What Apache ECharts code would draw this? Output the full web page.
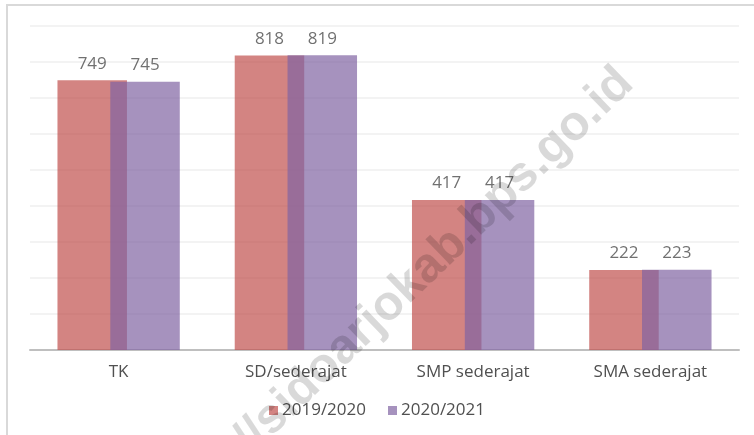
<!DOCTYPE html>
<html>
<head>
<meta charset="utf-8">
<script src="https://cdn.jsdelivr.net/npm/echarts@6/dist/echarts.min.js"></script>
<style>
  html, body { margin: 0; padding: 0; background: #fff; }
  #main { width: 754px; height: 435px; }
</style>
</head>
<body>
<div id="main"></div>
<script>
// jenjang pendidikan
var categories = ['TK', 'SD/sederajat', 'SMP sederajat', 'SMA sederajat'];
var years = ['2019/2020', '2020/2021'];
var values2019 = [749, 818, 417, 222];
var values2020 = [745, 819, 417, 223];

var myChart = echarts.init(document.getElementById('main'));

var labelStyle = {
    show: true,
    position: 'top',
    distance: 8,
    color: '#333333',
    fontSize: 17,
    fontFamily: 'Open Sans'
};

var option = {
    animation: false,
    textStyle: { fontFamily: 'Open Sans' },
    grid: { left: 30, right: 15, top: 26, bottom: 85 },
    legend: {
        data: years,
        bottom: 11,
        left: 'center',
        icon: 'rect',
        itemWidth: 9,
        itemHeight: 9,
        itemGap: 22,
        textStyle: { color: '#505050', fontSize: 17, fontFamily: 'Open Sans', padding: [0, 0, 0, -1] }
    },
    xAxis: {
        type: 'category',
        data: categories,
        axisTick: { show: false },
        axisLine: { lineStyle: { color: '#bfbfbf', width: 2 } },
        axisLabel: { color: '#505050', fontSize: 17, margin: 14 }
    },
    yAxis: {
        type: 'value',
        min: 0,
        max: 900,
        interval: 100,
        axisLabel: { show: false },
        axisLine: { show: false },
        axisTick: { show: false },
        splitLine: { lineStyle: { color: '#efefef', width: 1.5 } }
    },
    graphic: [
        // frame of the original picture
        { type: 'line', shape: { x1: 6, y1: 5, x2: 754, y2: 5 }, style: { stroke: '#d9d9d9', lineWidth: 2 }, silent: true },
        { type: 'line', shape: { x1: 7, y1: 5, x2: 7, y2: 435 }, style: { stroke: '#d9d9d9', lineWidth: 2 }, silent: true },
        // watermark
        {
            type: 'text',
            x: 626,
            y: 76,
            rotation: 44 * Math.PI / 180,
            z: 100,
            silent: true,
            style: {
                text: 'https://sidoarjokab.bps.go.id',
                align: 'right',
                verticalAlign: 'middle',
                fontSize: 49,
                fontWeight: 'bold',
                fontFamily: 'Liberation Sans',
                fill: 'rgba(0,0,0,0.15)'
            }
        }
    ],
    series: [
        {
            name: years[0],
            type: 'bar',
            data: values2019,
            barWidth: 69.5,
            barGap: '-24%',
            itemStyle: { color: '#C0504D', opacity: 0.7 },
            label: labelStyle
        },
        {
            name: years[1],
            type: 'bar',
            data: values2020,
            barWidth: 69.5,
            itemStyle: { color: '#8064A2', opacity: 0.7 },
            label: labelStyle
        }
    ]
};

myChart.setOption(option);
</script>
</body>
</html>
